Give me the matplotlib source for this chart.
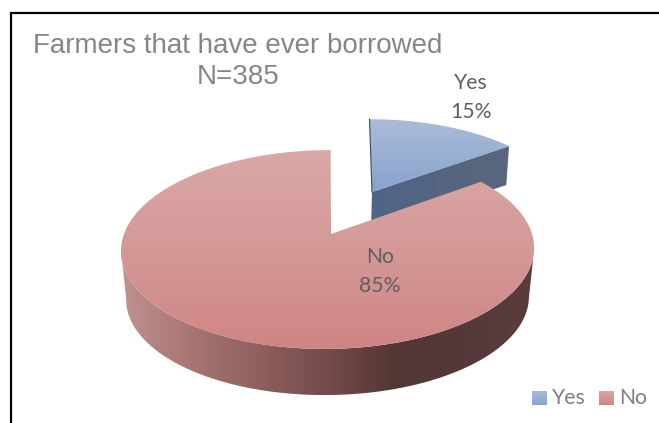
import numpy as np
import matplotlib
matplotlib.use("Agg")
import matplotlib.pyplot as plt
from matplotlib.colors import LinearSegmentedColormap
from matplotlib.patches import Polygon

categories = ["Yes", "No"]
shares = [15, 85]
title_lines = ["Farmers that have ever borrowed", "N=385"]

# pie geometry in pixels: rim centre, wedge tip, radii, perspective, wall depth
yes_geom = dict(x0=372, y0=192, tip=(372, 192), A=191, K=87, p=0.195, q=-3, drop=38, s=0.98)
no_geom = dict(x0=328, y0=234, tip=(331, 234), A=204, K=97, p=0.156, q=3, drop=49, s=0.975)


def rim(theta, g, lower=False):
    t = np.radians(theta)
    u, v = np.cos(t), np.sin(t)
    w = 1 + g["p"] * v
    s = g["s"] if lower else 1.0
    x = g["x0"] + s * g["A"] * u / w + g["q"] * v / w
    y = g["y0"] + (g["drop"] if lower else 0) - s * g["K"] * v / w
    return np.column_stack([x, y])


def gradient_fill(ax, poly, colors, horizontal=False, zorder=2, extent=None):
    cmap = LinearSegmentedColormap.from_list("g", colors)
    ramp = np.linspace(0, 1, 256)
    ramp = ramp[None, :] if horizontal else ramp[:, None]
    if extent is None:
        extent = (poly[:, 0].min(), poly[:, 0].max(), poly[:, 1].max(), poly[:, 1].min())
    im = ax.imshow(ramp, cmap=cmap, extent=extent, aspect="auto", zorder=zorder, origin="upper")
    patch = Polygon(poly, closed=True, transform=ax.transData, facecolor="none", edgecolor="none")
    ax.add_patch(patch)
    im.set_clip_path(patch)


fig = plt.figure(figsize=(6.59, 4.23), dpi=100)
ax = fig.add_axes([0, 0, 1, 1])
ax.axis("off")

# slice angles run clockwise from twelve o'clock
yes_sweep = shares[0] / sum(shares) * 360
no_sweep = shares[1] / sum(shares) * 360
split = 90 - yes_sweep

# Yes slice
yes_arc = rim(np.linspace(90, split, 80), yes_geom)
yes_top = np.vstack([yes_geom["tip"], yes_arc])
end_top = yes_arc[-1]
end_low = rim(np.array([split]), yes_geom, lower=True)[0]
tip_low = (yes_geom["tip"][0] - 1, yes_geom["tip"][1] + yes_geom["drop"])
yes_wall = np.array([yes_geom["tip"], end_top, end_low, tip_low])
gradient_fill(ax, yes_wall, ["#4f6486", "#5a667c"], horizontal=True, zorder=2)
gradient_fill(ax, yes_top, ["#aabcd8", "#89a3ce"], zorder=3)
ax.plot([yes_arc[0][0], yes_geom["tip"][0]], [yes_arc[0][1], yes_geom["tip"][1]],
        color="#3d4a60", lw=0.8, zorder=4)

# No slice, wall first and the top face over it
no_arc = rim(np.linspace(split, split - no_sweep, 300), no_geom)
no_top = np.vstack([no_geom["tip"], no_arc])
wall_range = np.linspace(-171, -9, 200)
no_wall = np.vstack([rim(wall_range, no_geom), rim(wall_range[::-1], no_geom, lower=True)])
gradient_fill(ax, no_wall, ["#bf9190", "#a77673", "#8e605e", "#744b4a", "#523534", "#55393a", "#5a3c3c"],
              horizontal=True, zorder=5)
gradient_fill(ax, no_top, ["#d9a8a7", "#d49997", "#cf8583"], zorder=6)

# chart frame
ax.plot([10.5, 10.5, 659], [423, 13.5, 13.5], color="black", lw=1.6, zorder=7, solid_joinstyle="miter")

# title
title_font = dict(family="Liberation Sans", fontsize=20, color="#868686", ha="center", va="baseline")
ax.text(238, 53, title_lines[0], **title_font)
ax.text(238, 84, title_lines[1], **title_font)

# data labels
label_font = dict(family="Lato", fontsize=15.2, color="#5f5f5f", ha="center", va="baseline", zorder=8)
for name, share, x, y in zip(categories, shares, [471, 380], [89, 263]):
    ax.text(x, y, name, **label_font)
    ax.text(x, y + 29, f"{share}%", **label_font)

# legend
legend_font = dict(family="Lato", fontsize=15.2, color="#7f7f7f", ha="left", va="baseline")
swatches = [["#aabcd8", "#89a3ce"], ["#d9a8a7", "#cf8583"]]
for name, cols, x, tx in zip(categories, swatches, [532, 599], [552, 619]):
    box = np.array([[x, 391], [x + 15, 391], [x + 15, 405], [x, 405]])
    gradient_fill(ax, box, cols, zorder=8)
    ax.text(tx, 404, name, **legend_font)

ax.set_xlim(0, 659)
ax.set_ylim(423, 0)
fig.savefig("out.png", dpi=100, facecolor="white")
